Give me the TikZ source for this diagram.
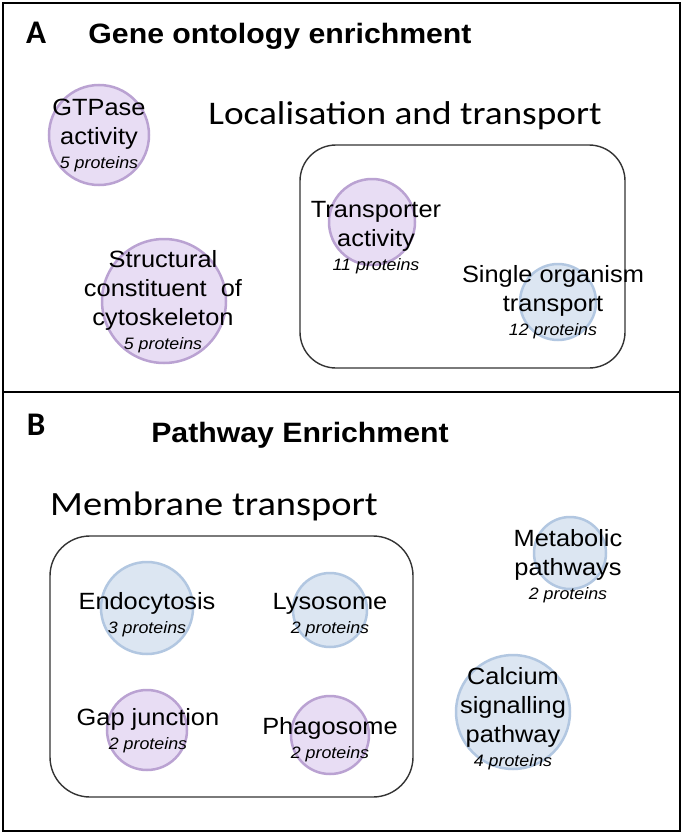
\documentclass[tikz,border=0pt]{standalone}
\usepackage{fontspec}
\setmainfont[FakeStretch=1.08]{Liberation Sans}
\newfontfamily\calfont[FakeStretch=1.13]{Carlito}
\newfontfamily\letfont{Carlito}
\usetikzlibrary{positioning}
\definecolor{lilac}{RGB}{232,221,244}
\definecolor{lilacedge}{RGB}{186,162,210}
\definecolor{paleblue}{RGB}{220,230,242}
\definecolor{paleblueedge}{RGB}{178,199,225}
\tikzset{
purple_term/.style={
	% The shape:
	circle,
	inner sep=0pt,
	% The border:
	line width=2.5pt,
	draw=lilacedge,
	% The filling:
	fill=lilac
},
blue_term/.style={
	circle,
	inner sep=0pt,
	line width=2.5pt,
	draw=paleblueedge,
	fill=paleblue
},
term_text/.style={
	align=center,
	inner sep=0pt,
	font=\fontsize{23.5}{29}\selectfont
},
group_box/.style={
	draw=black!80,
	line width=1.4pt,
	rounded corners=36pt
},
panel_letter/.style={anchor=base,font=\letfont\bfseries\fontsize{33}{36}\selectfont},
panel_title/.style={anchor=base,font=\bfseries\fontsize{28}{32}\selectfont},
group_title/.style={anchor=base,font=\calfont\fontsize{33}{38}\selectfont}
}
\newcommand{\nprot}[1]{{\fontsize{16.5}{19}\selectfont\itshape #1 proteins}}

\begin{document}
\begin{tikzpicture}[x=1pt,y=-1pt]
	\useasboundingbox (0,0) rectangle (685,835);
	\fill[white] (0,0) rectangle (685,835);
	% frame
	\draw[line width=1.6pt] (3,3) rectangle (680,831);
	\draw[line width=1.6pt] (3,392) -- (680,392);

	% ---- A ----
	\node[panel_letter] (letA) at (36,43) {A};
	\node[panel_title] (goTitle) at (280,43) {Gene ontology enrichment};
	\node[group_title] (locTitle) at (405,124) {Localisation and transport};
	\draw[group_box] (300,145) rectangle (625,368);

	\node[purple_term,minimum size=100pt] (gtp) at (99,135) {};
	\node[purple_term,minimum size=124pt] (struct) at (164,301) {};
	\node[purple_term,minimum size=86pt] (transp) at (372,222) {};
	\node[blue_term,minimum size=76pt] (single) at (558,302) {};

	\node[term_text] (gtpTxt) at (99,136) {GTPase\\activity\\[-5pt]\nprot{5}};
	\node[term_text] (structTxt) at (163,302) {Structural\\constituent\ \ of\\cytoskeleton\\[-5pt]\nprot{5}};
	\node[term_text] (transpTxt) at (376,238) {Transporter\\activity\\[-5pt]\nprot{11}};
	\node[term_text] (singleTxt) at (553,302) {Single organism\\transport\\[-5pt]\nprot{12}};

	% ---- B ----
	\node[panel_letter] (letB) at (36,435) {B};
	\node[panel_title] (pwTitle) at (300,442) {Pathway Enrichment};
	\node[group_title,font=\calfont\fontsize{34}{38}\selectfont] (memTitle) at (214,515) {Membrane transport};
	\draw[group_box,rounded corners=40pt] (50,536) rectangle (413,797);

	\node[blue_term,minimum size=92pt] (endo) at (147,608) {};
	\node[blue_term,minimum size=74pt] (lyso) at (330,610) {};
	\node[purple_term,minimum size=80pt] (gap) at (147,730) {};
	\node[purple_term,minimum size=78pt] (phago) at (330,735) {};
	\node[blue_term,minimum size=72pt] (metab) at (570,553) {};
	\node[blue_term,minimum size=114pt] (calc) at (513,712) {};

	\node[term_text] (endoTxt) at (147,615) {Endocytosis\\[-5pt]\nprot{3}};
	\node[term_text] (lysoTxt) at (330,615) {Lysosome\\[-5pt]\nprot{2}};
	\node[term_text] (gapTxt) at (148,731) {Gap junction\\[-5pt]\nprot{2}};
	\node[term_text] (phagoTxt) at (330,740) {Phagosome\\[-5pt]\nprot{2}};
	\node[term_text] (metabTxt) at (568,566) {Metabolic\\pathways\\[-5pt]\nprot{2}};
	\node[term_text] (calcTxt) at (513,719) {Calcium\\signalling\\pathway\\[-5pt]\nprot{4}};
\end{tikzpicture}
\end{document}
